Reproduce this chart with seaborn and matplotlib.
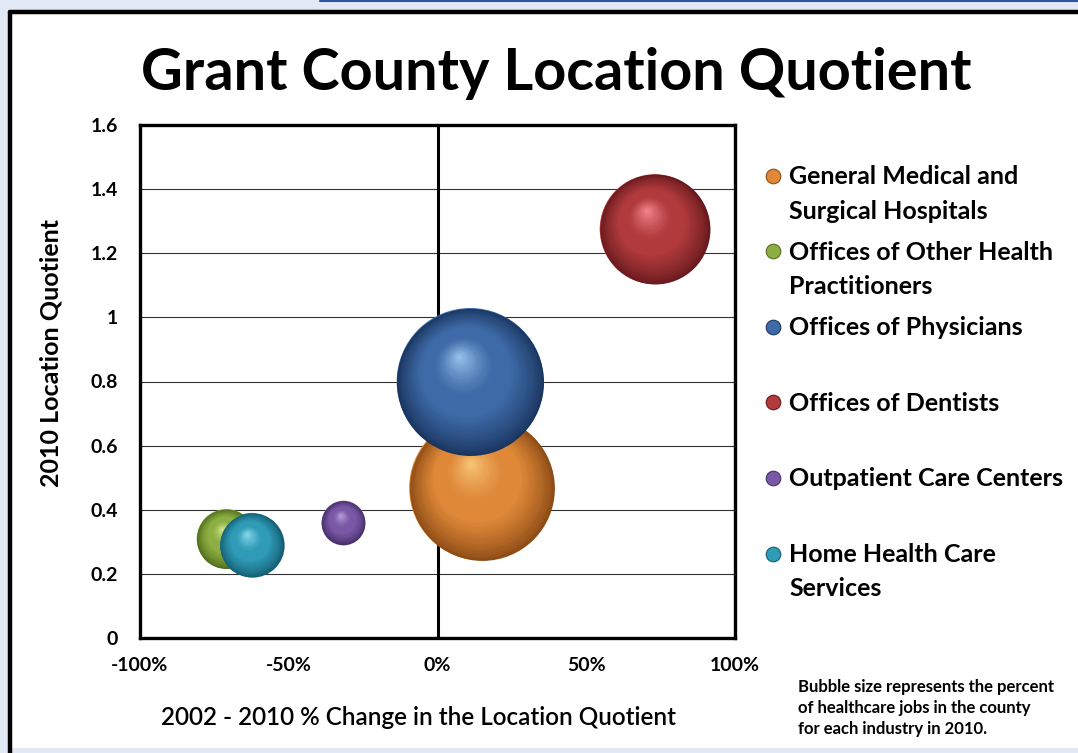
import numpy as np
import pandas as pd
import matplotlib
matplotlib.use("Agg")
import matplotlib.pyplot as plt
import matplotlib.colors as mcolors
from matplotlib.transforms import offset_copy
from matplotlib.lines import Line2D
from matplotlib.legend_handler import HandlerLine2D
from matplotlib.patches import Rectangle
import seaborn as sns

# ---------------- data ----------------
industries = ["General Medical and Surgical Hospitals",
              "Offices of Other Health Practitioners",
              "Offices of Physicians",
              "Offices of Dentists",
              "Outpatient Care Centers",
              "Home Health Care Services"]
legend_labels = ["General Medical and\nSurgical Hospitals",
                 "Offices of Other Health\nPractitioners",
                 "Offices of Physicians\n",
                 "Offices of Dentists\n",
                 "Outpatient Care Centers\n",
                 "Home Health Care\nServices"]
pct_change = [14.8, -71.0, 11.0, 73.0, -31.6, -62.5]      # 2002-2010 % change in LQ
lq_2010 = [0.468, 0.31, 0.80, 1.275, 0.36, 0.29]           # 2010 location quotient
job_share = [33.0, 5.5, 34.0, 19.0, 3.0, 6.5]              # % of healthcare jobs (bubble size)

base_colors = ["#DE8838", "#8CAE42", "#3E6BA8", "#B03A3C", "#7A58A6", "#2F9BB6"]
light_colors = ["#F8C274", "#CCE288", "#94BEE8", "#F0828A", "#B49CDA", "#86D6EA"]
dark_colors = ["#8E4C16", "#52701E", "#1A3660", "#681A1E", "#46306C", "#145E74"]

x_ticks = [-100, -50, 0, 50, 100]
x_tick_labels = ["-100%", "-50%", "0%", "50%", "100%"]
y_ticks = [0, 0.2, 0.4, 0.6, 0.8, 1.0, 1.2, 1.4, 1.6]
y_tick_labels = ["0", "0.2", "0.4", "0.6", "0.8", "1", "1.2", "1.4", "1.6"]

df = pd.DataFrame({"industry": industries, "change": pct_change,
                   "lq": lq_2010, "share": job_share})

# ---------------- style ----------------
sns.set_theme(style="white")
plt.rcParams["font.family"] = ["Lato", "DejaVu Sans"]
plt.rcParams["font.weight"] = "bold"

W, H = 1078, 753
fig = plt.figure(figsize=(W / 100, H / 100), dpi=100)
fig.patch.set_facecolor("#E2E9F5")

# white chart panel with black border (left/top)
fig.add_artist(Rectangle((10 / W, 5 / H), 1.2, 1 - 17 / H, transform=fig.transFigure,
                         facecolor="white", edgecolor="none", zorder=-5))
fig.add_artist(Line2D([10 / W, 10 / W], [0, 1 - 12 / H], transform=fig.transFigure,
                      color="black", lw=3.2, zorder=-4))
fig.add_artist(Line2D([10 / W, 1], [1 - 12 / H, 1 - 12 / H], transform=fig.transFigure,
                      color="black", lw=3.2, zorder=-4))
fig.add_artist(Line2D([320 / W, 1], [1 - 0.8 / H, 1 - 0.8 / H], transform=fig.transFigure,
                      color="#2A55A0", lw=1.5, zorder=-4))

ax = fig.add_axes([140 / W, 1 - 638 / H, (735 - 140) / W, (638 - 125) / H])
ax.set_facecolor("white")

max_share = max(job_share)
smax = (2 * 73.5 / (100 / 72)) ** 2   # marker area (pt^2) for the biggest bubble
sizes_pt2 = [smax * v / max_share for v in job_share]

pal = dict(zip(industries, base_colors))
sns.scatterplot(data=df, x="change", y="lq", hue="industry", palette=pal,
                size="share", sizes=(smax * min(job_share) / max_share, smax),
                size_norm=(min(job_share), max_share),
                legend=False, ax=ax, linewidth=0, alpha=1, zorder=3)

# sphere shading layers
def blend(c1, c2, t):
    a = np.array(mcolors.to_rgb(c1)); b = np.array(mcolors.to_rgb(c2))
    return tuple(a + (b - a) * t)

N = 40
for i in range(len(industries)):
    r_pt = np.sqrt(sizes_pt2[i]) / 2
    z = 3 + i * 0.01
    ax.scatter([pct_change[i]], [lq_2010[i]], s=sizes_pt2[i], color=dark_colors[i],
               linewidths=0, zorder=z)
    for k in range(1, N + 1):
        t = k / N
        f = 1 - 0.97 * t
        dx = -0.15 * r_pt * t
        dy = 0.34 * r_pt * t
        if t < 0.6:
            col = blend(dark_colors[i], base_colors[i], min(1, (t / 0.4) ** 0.8))
        else:
            col = blend(base_colors[i], light_colors[i], ((t - 0.6) / 0.4) ** 1.3)
        tr = offset_copy(ax.transData, fig=fig, x=dx, y=dy, units="points")
        ax.scatter([pct_change[i]], [lq_2010[i]], s=(2 * r_pt * f) ** 2, color=col,
                   linewidths=0, transform=tr, zorder=z)

ax.set_xlim(-100, 100)
ax.set_ylim(0, 1.6)
ax.set_xticks(x_ticks)
ax.set_xticklabels(x_tick_labels)
ax.set_yticks(y_ticks)
ax.set_yticklabels(y_tick_labels)
ax.tick_params(axis="x", length=0, pad=14, labelsize=14)
ax.tick_params(axis="y", length=0, pad=16, labelsize=14)
for lab in ax.get_xticklabels() + ax.get_yticklabels():
    lab.set_fontweight("bold")
    lab.set_color("black")

ax.grid(False)
for yv in y_ticks[1:-1]:
    ax.axhline(yv, color="#333333", lw=0.8, zorder=1)
ax.axvline(0, color="black", lw=2.2, zorder=2)
for sp in ax.spines.values():
    sp.set_visible(True)
    sp.set_color("black")
    sp.set_linewidth(2.4)
    sp.set_zorder(2.5)

ax.set_xlabel("2002 - 2010 % Change in the Location Quotient", fontsize=17.5,
              fontweight="semibold", labelpad=23, color="black")
ax.xaxis.label.set_x((418 - 140) / 595)
ax.set_ylabel("2010 Location Quotient", fontsize=18, fontweight="bold",
              labelpad=20, color="black")
ax.yaxis.label.set_y((638 - 353) / 513)

fig.text(556 / W, 1 - 74 / H, "Grant County Location Quotient", ha="center",
         va="center", fontsize=41.5, fontweight="bold", color="black")


class RaisedHandler(HandlerLine2D):
    def __init__(self, raise_pt=0.0, **kw):
        super().__init__(**kw)
        self.raise_pt = raise_pt

    def create_artists(self, legend, orig_handle, xdescent, ydescent, width, height,
                       fontsize, trans):
        arts = super().create_artists(legend, orig_handle, xdescent, ydescent, width,
                                      height, fontsize, trans)
        for a in arts:
            a.set_ydata(np.asarray(a.get_ydata(), dtype=float) + self.raise_pt)
        return arts


handles = [Line2D([], [], ls="", marker="o", markersize=10.5,
                  markerfacecolor=base_colors[i], markeredgecolor=dark_colors[i],
                  markeredgewidth=0.8) for i in range(len(industries))]
leg = fig.legend(handles, legend_labels, loc="upper left",
                 bbox_to_anchor=(764 / W, 1 - 165 / H), frameon=False,
                 prop={"family": ["Lato", "DejaVu Sans"], "weight": "bold", "size": 18},
                 handlelength=0.7, handletextpad=0.3, labelspacing=0.71,
                 borderaxespad=0, borderpad=0,
                 handler_map={Line2D: RaisedHandler(raise_pt=13.5)})
for t in leg.get_texts():
    t.set_linespacing(1.62)
    t.set_color("black")

fig.text(798 / W, 1 - 679 / H,
         "Bubble size represents the percent\nof healthcare jobs in the county\nfor each industry in 2010.",
         ha="left", va="top", fontsize=12, fontweight="bold", color="black",
         linespacing=1.38)

fig.savefig("out.png", dpi=100, facecolor=fig.get_facecolor())
